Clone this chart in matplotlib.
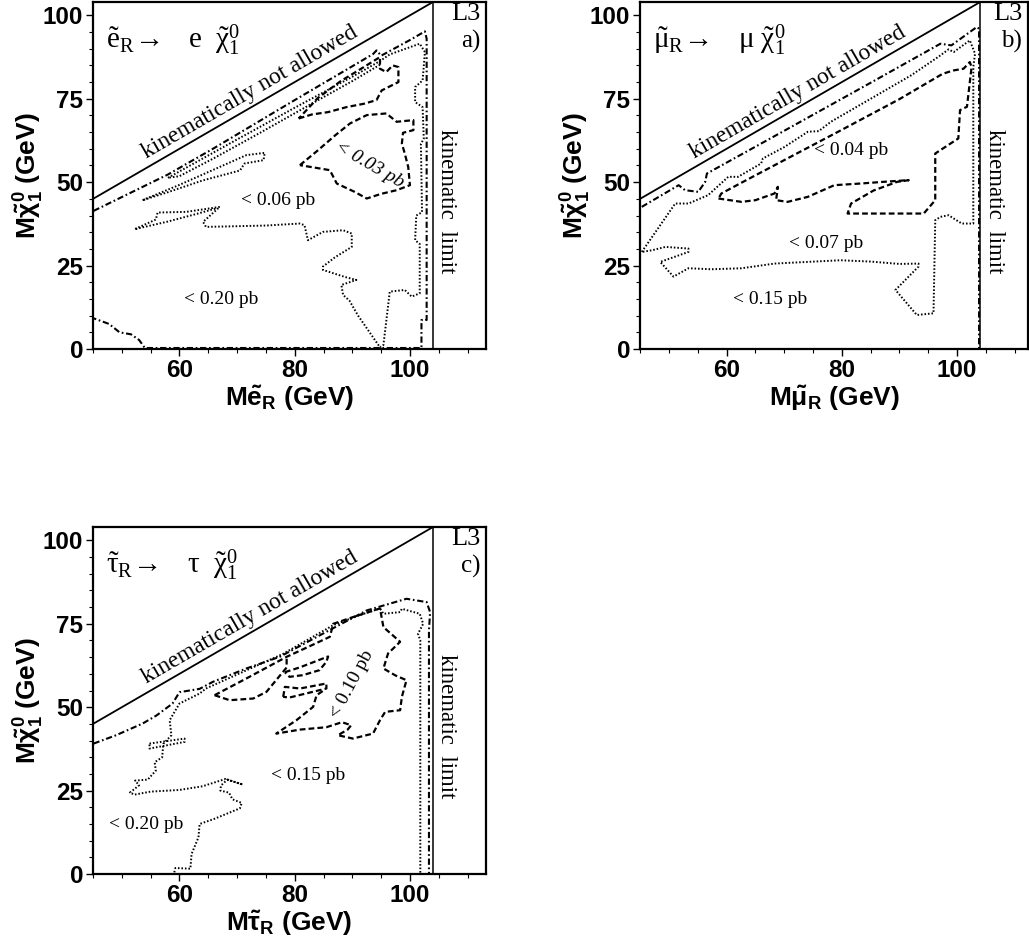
import numpy as np
import matplotlib.pyplot as plt
from matplotlib.ticker import MultipleLocator

plt.rcParams['font.family'] = ['Liberation Sans', 'DejaVu Sans']
plt.rcParams['mathtext.fontset'] = 'custom'
plt.rcParams['mathtext.rm'] = 'Liberation Serif'
plt.rcParams['mathtext.it'] = 'Liberation Serif:italic'
plt.rcParams['mathtext.bf'] = 'Liberation Sans:bold'
plt.rcParams['mathtext.sf'] = 'Liberation Sans'

# ---- panel a) selectron ----
a_dd_x = [45.1, 58, 66, 80, 93.6, 94.2, 95.0, 100, 102.6, 102.9, 102.9, 102.0, 102.0, 54.0, 53.0, 51.6, 49.6, 47.8, 45.1]
a_dd_y = [41.4, 52.3, 60.2, 74.6, 88.4, 89.5, 87.9, 92.6, 95.2, 93, 8.7, 8.7, 0.3, 0.3, 2.7, 4.4, 5.0, 7.5, 9.2]
a_dot_x = [58, 70, 80, 90, 94.8, 96.5, 101.7, 102.6, 102.2, 100.9, 100.9, 102.2, 102.4, 101.9, 102.1, 101.1,
           100.9, 101.7, 101.7, 100.3, 99.1, 96.5, 95.4, 94.8, 93, 91, 89.5, 88.4, 88.1, 90.7, 88.7, 84.9,
           84.9, 87, 89.9, 89.9, 88.4, 84.9, 82.3, 81.7, 80.9, 75, 70, 64.6, 64.1, 67, 61.2, 56.2, 55.9,
           52.2, 58, 63, 66.5]
a_dot_y = [51.3, 62.8, 72.3, 81.6, 86.3, 88.3, 91.5, 89, 80.5, 78.5, 74, 72.5, 63, 61.5, 41, 40,
           32.6, 31.5, 16.7, 15.7, 17.7, 17.2, 1.2, 0.5, 5, 10, 14.5, 16.2, 19.2, 20.7, 21.6, 23.7,
           24.7, 27.5, 30.6, 34.6, 35.6, 35.1, 32.6, 37.1, 37.6, 37, 36.8, 36.6, 38.1, 42.6, 41.1, 40.9, 38.8,
           35.9, 38.2, 40.5, 42.2]
a_dot2_x = [94.8, 90, 82, 74, 66, 60, 58]
a_dot2_y = [85.2, 80.3, 72.6, 64.8, 57.2, 51.8, 51.3]
a_sliver_x = [53.6, 60, 66, 71.6, 74.8, 74.6, 71.3, 70.5, 64, 58, 53.6]
a_sliver_y = [44.6, 49.2, 53.8, 58.1, 58.8, 56.6, 55.6, 53.5, 50.5, 47, 44.6]
a_lobe_x = [80.7, 83, 85.8, 89, 92, 94.2, 95.1, 98, 98, 97, 95.9, 94.8, 94.8, 92, 88, 84, 80.7]
a_lobe_y = [69.1, 70.3, 71, 72.5, 73.5, 74.6, 77.5, 80, 84.5, 85, 83, 84, 87.5, 84.5, 80.3, 75.2, 69.1]
a_dash_x = [80.9, 84, 87, 89.6, 92.5, 95.9, 97.7, 100.6, 100.6, 98.8, 98.6, 99.1, 99.7, 100, 97.7, 95,
            92.5, 90.4, 87.3, 86.1, 83, 80.9]
a_dash_y = [55.1, 59.5, 64, 67.6, 70.1, 70.6, 68.1, 68.6, 65.6, 64.8, 61.6, 58.6, 54.6, 49.1, 47.6, 46.5,
            45.1, 47.1, 49.6, 53.6, 54.5, 55.1]

# ---- panel b) smuon ----
b_dd_x = [45.3, 51.7, 52.8, 55.1, 56.3, 56.6, 70, 85, 97.1, 99, 103.4, 103.8, 103.8]
b_dd_y = [42.6, 49.1, 47.6, 47.1, 50.1, 52.6, 65.4, 79.8, 91.5, 91, 96.5, 96, 0]
b_dot_x = [45.3, 51.1, 53.4, 56.8, 60.3, 62, 66, 66.3, 70, 74.1, 76, 78.1, 85, 92, 97.1, 98.5, 99.4,
           102.2, 103.1, 102.8, 102.8, 100.8, 98.5, 97.1, 96.2, 95.9, 93, 89.3, 93.3, 93.3, 90, 85,
           79.8, 74, 68.3, 62.6, 57.4, 53.4, 50.8, 48.5, 53.4, 53.4, 49.4, 47.1, 45.3]
b_dot_y = [29.1, 43.6, 43.6, 46.1, 51.6, 51.6, 55.6, 57.1, 60.5, 65.1, 65.3, 68.1, 75, 82, 88, 89.8, 89,
           92.5, 88.5, 84.5, 37.6, 37.6, 40.1, 39.6, 38.6, 10.7, 10.2, 17.7, 24.7, 25.6, 25.5, 26.2,
           26.6, 26.1, 25.6, 24.2, 23.9, 24.2, 21.7, 26.1, 29.1, 30.1, 30.6, 29.6, 29.1]
b_dash_x = [58.6, 62.6, 65, 68.3, 68.9, 68.6, 70.6, 74.1, 78.7, 83.3, 88, 91.6, 89.6, 85.5, 81.6, 81.0,
            94.2, 96.2, 96.2, 100.2, 100.5, 101.7, 102.5, 102.2, 101.1, 99.4, 97.5, 90, 80, 70, 62,
            59.1, 58.6]
b_dash_y = [45.1, 44.1, 44.6, 46.6, 48.6, 44.6, 44.1, 45.6, 49.1, 49.6, 50.2, 50.6, 50.1, 47.5, 43.6, 40.6,
            40.6, 44.6, 58.6, 63.1, 71.6, 72.6, 84.5, 86, 84, 83.5, 82.5, 74.9, 65.7, 56.6, 49.3,
            46.6, 45.1]

# ---- panel c) stau ----
c_dd_x = [45.1, 49, 53.6, 56, 58.8, 60, 63.5, 65.8, 71.6, 77.4, 85.5, 92.5, 99.4, 102.9, 103.5, 103.3, 103.3]
c_dd_y = [39.1, 41.6, 45.1, 47.5, 51.1, 54.5, 55.5, 57.6, 61.6, 65.1, 72.6, 79, 82.5, 81.5, 78.5, 73, 0]
c_dot_x = [59.1, 59.3, 61.9, 62.1, 63.3, 63.5, 66, 70.5, 70.8, 69.2, 68.6, 67.1, 67.2, 68.3, 71, 68,
           64, 60, 55, 52.2, 51.4, 53, 52.3, 54.5, 55.9, 55.7, 57, 57.2, 58.6, 58.3, 60, 63.5,
           64.6, 70, 78, 86.7, 91.3, 94.8, 95.4, 98.3, 98.6, 101.7, 102.3, 101.4, 101.8, 101.8]
c_dot_y = [0.5, 1.8, 1.6, 6, 11, 15, 16.5, 19.7, 21.3, 22.4, 24.4, 25, 26.5, 28.3, 26.8, 28.5,
           26.3, 25.2, 24.7, 23.8, 24.4, 26.6, 28, 28.3, 31, 33.5, 35, 39, 41.6, 46.1, 51.1, 54.1,
           55.6, 59.8, 66, 74.6, 77.6, 79.6, 78, 78.5, 79.5, 78, 75, 72, 70, 0]
c_loop_x = [54.8, 60.9, 60.9, 54.8, 54.8]
c_loop_y = [39.1, 40.6, 39.6, 37.6, 39.1]
c_dash_x = [66.1, 71.6, 78.6, 83, 86.1, 86.7, 90.1, 94.8, 95.4, 98.3, 96.2, 95.4, 97.5, 99.4, 98.6,
            98.3, 95.7, 94.8, 93.6, 90.1, 87.5, 89.2, 89.8, 88.2, 85.5, 81, 76.8, 80.3, 83.2, 83.8, 85.0]
c_dash_y = [53.6, 58.6, 65.1, 68.6, 71.1, 75, 77, 79.6, 74, 69.6, 66.1, 61.6, 59.5, 58.1, 53.1,
            49.1, 48.6, 46.1, 42.1, 40.6, 41.6, 43.3, 44.6, 45.5, 44, 43.3, 42.1, 46.1, 50.1, 53.6, 55.0]
c_dash2_x = [66.1, 68.7, 72.8, 75.1, 78.6, 78.6]
c_dash2_y = [53.6, 52.1, 52.6, 54.6, 61.9, 65.1]
c_isl1_x = [78.3, 81, 85.8, 85.5, 84.3, 81.4, 79.1, 78.3]
c_isl1_y = [60.5, 62, 65.2, 63.6, 61.1, 59.6, 59.1, 60.5]
c_isl2_x = [78, 78.3, 80.9, 85.5, 85.5, 79.1, 78]
c_isl2_y = [53.1, 56.1, 55.6, 57.1, 55.6, 52.9, 53.1]

DOT = dict(color='k', lw=1.4, ls=(0, (0.8, 1.0)))
DASH = dict(color='k', lw=1.6, ls=(0, (2.6, 1.4)))
DD = dict(color='k', lw=1.5, ls=(0, (3.0, 1.3, 0.8, 1.3)))

panels = [
    dict(pos=[0.0904, 0.6334, 0.3819, 0.3645], xmax=113.2, tag='a)',
         proc=r'$\mathrm{\tilde{e}_R\!\rightarrow\ \ \ e\ \ \tilde{\chi}_1^0}$',
         xlabel=r'M$\mathbf{\tilde{e}_R}$ (GeV)',
         curves=[(a_dd_x, a_dd_y, DD), (a_dot_x, a_dot_y, DOT), (a_dot2_x, a_dot2_y, DOT),
                 (a_sliver_x, a_sliver_y, DOT), (a_lobe_x, a_lobe_y, DASH), (a_dash_x, a_dash_y, DASH)],
         labels=[('< 0.06 pb', 77.1, 44.6, 0, 'normal'), ('< 0.20 pb', 67.2, 14.7, 0, 'normal'),
                 ('< 0.03 pb', 93.0, 55.3, -30, 'italic')]),
    dict(pos=[0.6220, 0.6334, 0.3771, 0.3645], xmax=112.3, tag='b)',
         proc=r'$\mathrm{\tilde{\mu}_R\!\rightarrow\ \ \ \mu\ \tilde{\chi}_1^0}$',
         xlabel=r'M$\mathbf{\tilde{\mu}_R}$ (GeV)',
         curves=[(b_dd_x, b_dd_y, DD), (b_dot_x, b_dot_y, DOT), (b_dash_x, b_dash_y, DASH)],
         labels=[('< 0.04 pb', 81.6, 59.6, 0, 'normal'), ('< 0.07 pb', 77.2, 31.6, 0, 'normal'),
                 ('< 0.15 pb', 67.5, 14.7, 0, 'normal')]),
    dict(pos=[0.0904, 0.0819, 0.3819, 0.3645], xmax=113.2, tag='c)',
         proc=r'$\mathrm{\tilde{\tau}_R\!\rightarrow\ \ \ \tau\ \ \tilde{\chi}_1^0}$',
         xlabel=r'M$\mathbf{\tilde{\tau}_R}$ (GeV)',
         curves=[(c_dd_x, c_dd_y, DD), (c_dot_x, c_dot_y, DOT), (c_loop_x, c_loop_y, DOT),
                 (c_dash_x, c_dash_y, DASH), (c_dash2_x, c_dash2_y, DASH),
                 (c_isl1_x, c_isl1_y, DASH), (c_isl2_x, c_isl2_y, DASH)],
         labels=[('< 0.15 pb', 82.3, 29.6, 0, 'normal'), ('< 0.20 pb', 54.2, 14.7, 0, 'normal'),
                 ('< 0.10 pb', 90.0, 57.0, 62, 'normal')]),
]

KIN = 104.0
SERIF = ['Liberation Serif', 'DejaVu Serif']

fig = plt.figure(figsize=(10.29, 9.52), dpi=100)

for p in panels:
    ax = fig.add_axes(p['pos'])
    ax.set_xlim(45, p['xmax'])
    ax.set_ylim(0, 104)

    for xs, ys, st in p['curves']:
        ax.plot(xs, ys, **st)

    # kinematic boundaries
    ax.plot([45, KIN], [45, KIN], color='k', lw=1.3)
    ax.axvline(KIN, color='k', lw=1.1)

    ax.text(72.3, 76.8, 'kinematically not allowed', family=SERIF, fontsize=17,
            rotation=45, transform_rotates_text=True, rotation_mode='anchor',
            ha='center', va='center')
    ax.text(106.4, 44.3, 'kinematic  limit', family=SERIF, fontsize=16.5,
            rotation=-90, ha='center', va='center')
    ax.text(p['xmax'] - 1.0, 103.6, 'L3', family=SERIF, fontsize=19, ha='right', va='top')
    ax.text(p['xmax'] - 1.0, 95.5, p['tag'], family=SERIF, fontsize=18, ha='right', va='top')
    ax.text(47.3, 92.5, p['proc'], fontsize=21, ha='left', va='center')

    for s, x, y, rot, sty in p['labels']:
        ax.text(x, y, s, family=SERIF, fontsize=14, rotation=rot, style=sty,
                ha='center', va='center')

    ax.xaxis.set_major_locator(MultipleLocator(20))
    ax.xaxis.set_minor_locator(MultipleLocator(5))
    ax.yaxis.set_major_locator(MultipleLocator(25))
    ax.yaxis.set_minor_locator(MultipleLocator(5))
    ax.tick_params(which='major', direction='out', length=5, width=1.0, labelsize=17.5, pad=2)
    ax.tick_params(which='minor', direction='out', length=3, width=0.8)
    for lab in ax.get_xticklabels() + ax.get_yticklabels():
        lab.set_fontweight('bold')
    for sp in ax.spines.values():
        sp.set_linewidth(1.6)

    ax.set_xlabel(p['xlabel'], fontsize=19, fontweight='bold', labelpad=1)
    ax.set_ylabel(r'M$\mathbf{\tilde{\chi}_1^0}$ (GeV)', fontsize=19, fontweight='bold', labelpad=-2)

plt.savefig('out.png', dpi=100)
